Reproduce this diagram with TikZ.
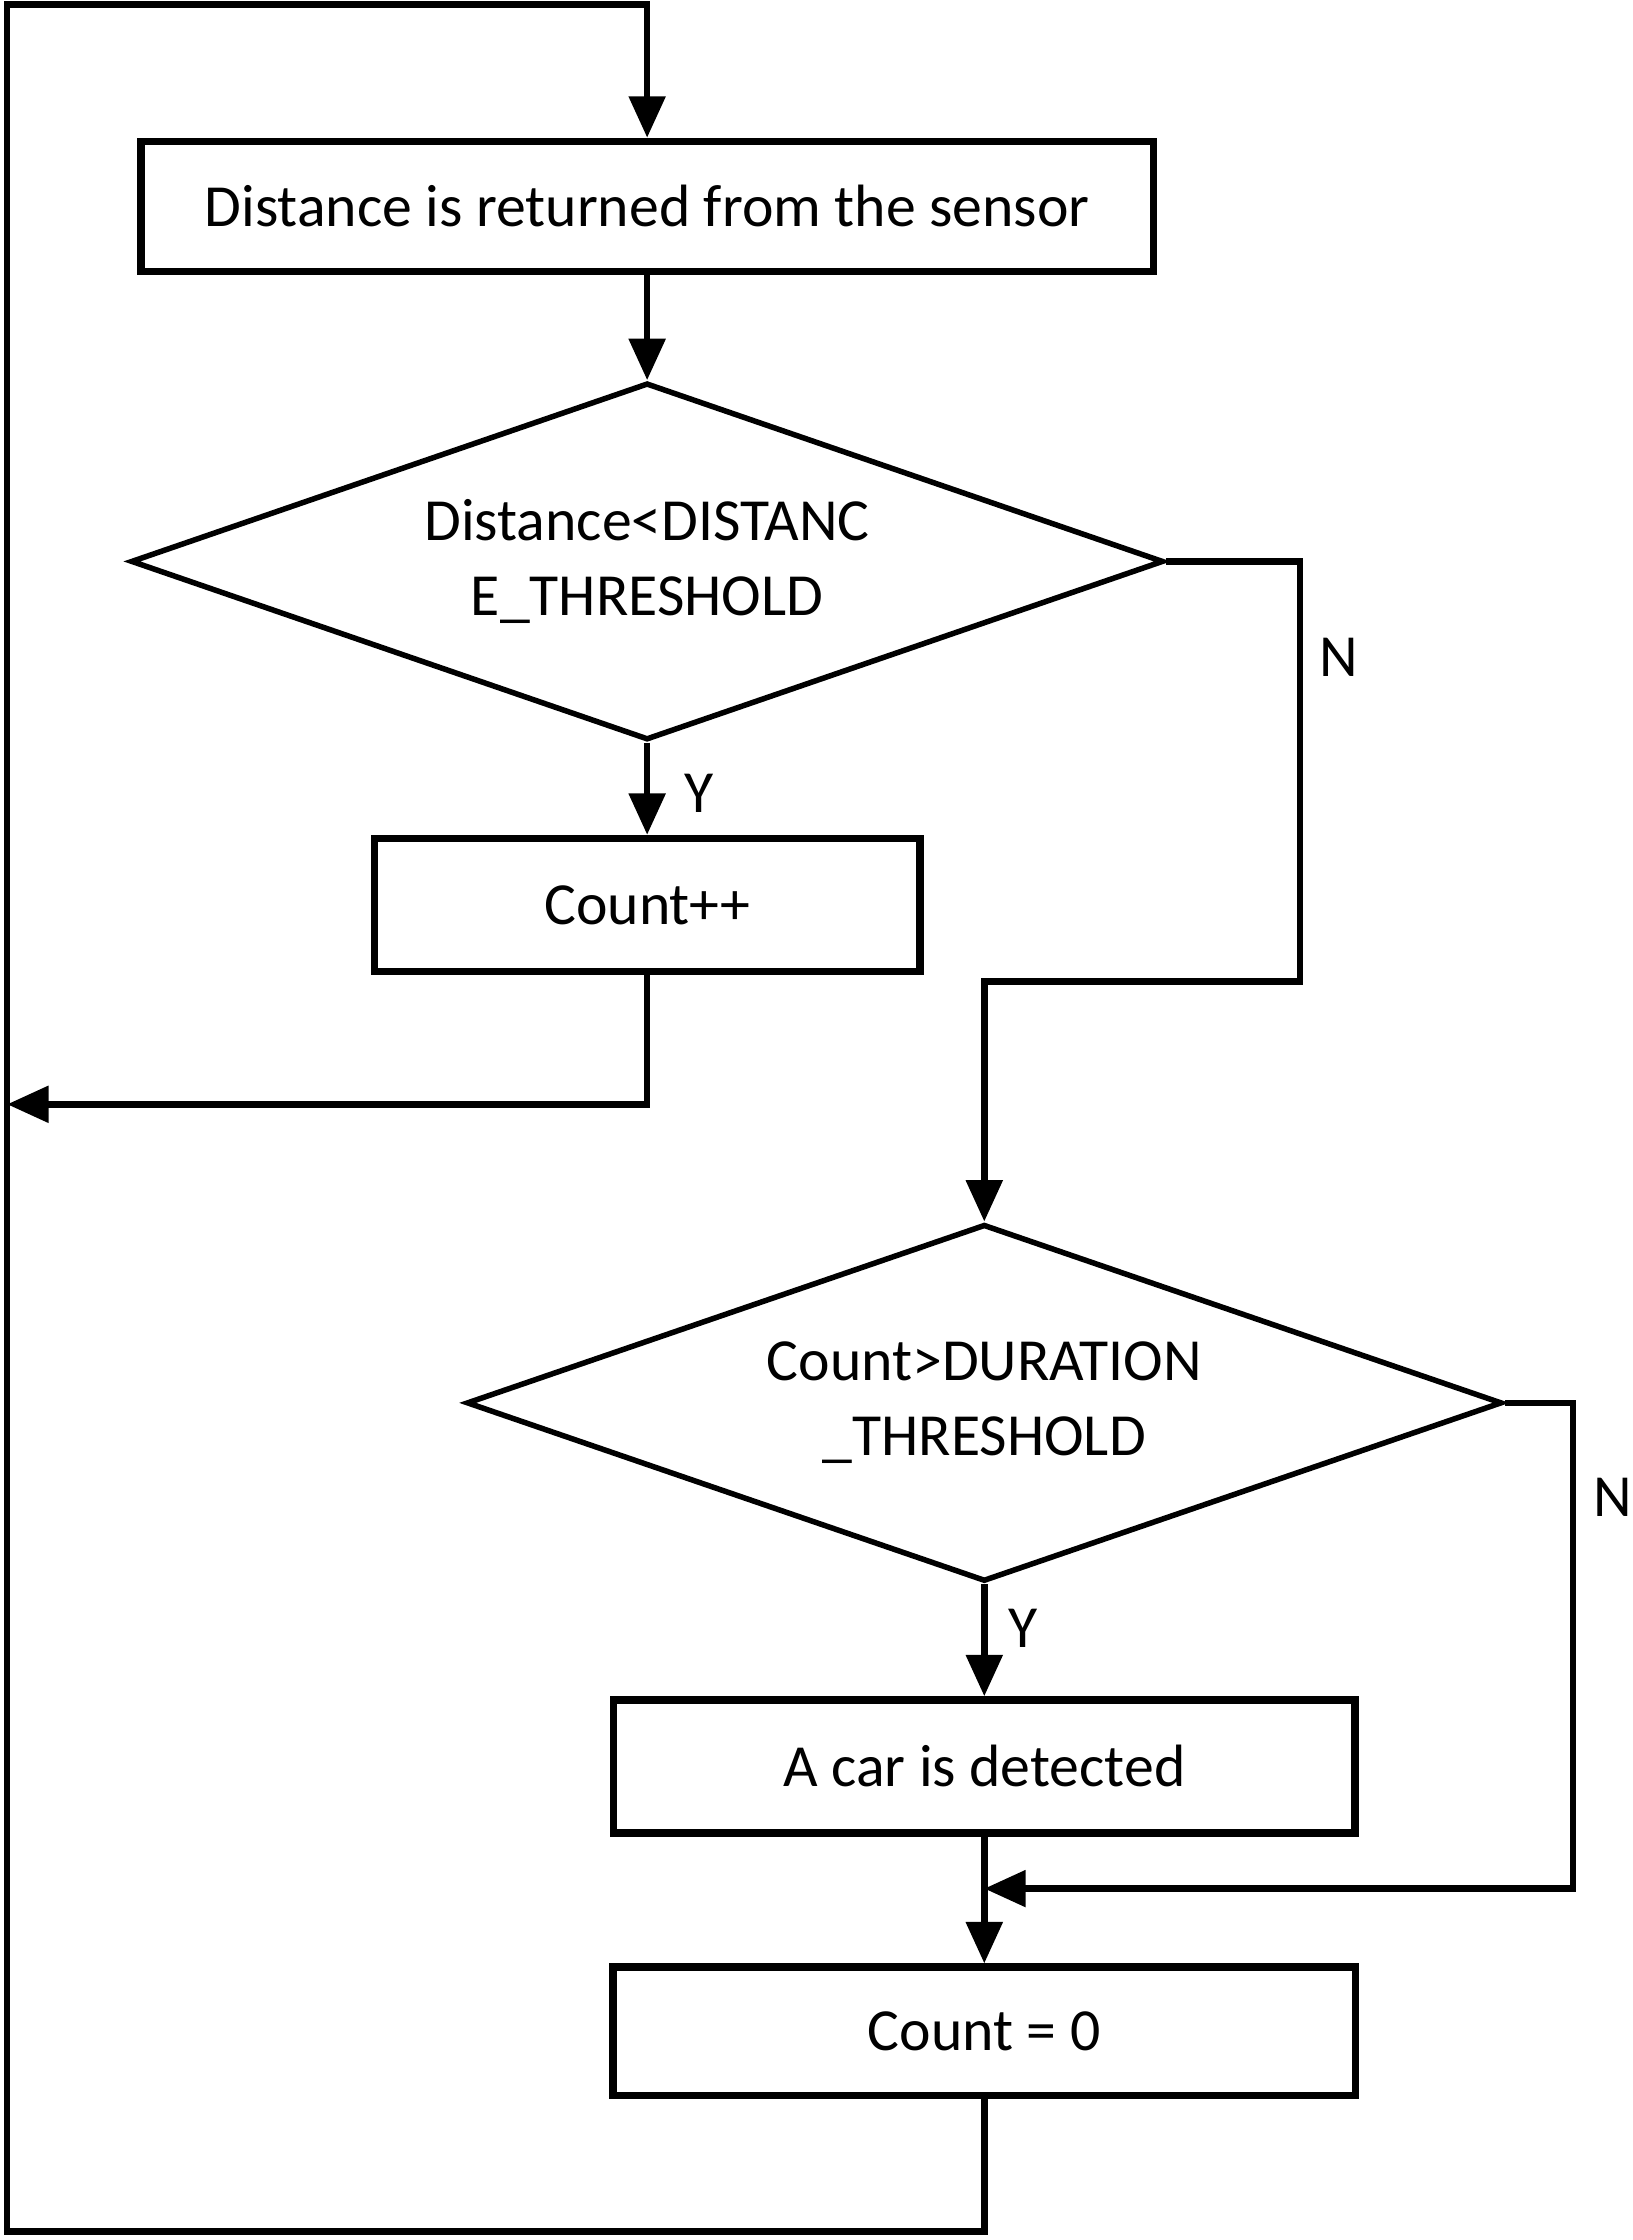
\documentclass[tikz,border=0pt]{standalone}
\usepackage{fontspec}
\setmainfont{Carlito}
\usetikzlibrary{shapes.geometric,arrows.meta}
\begin{document}
\begin{tikzpicture}[x=0.02cm,y=-0.02cm,
  txt/.style={font=\fontsize{23.8}{30}\selectfont},
  box/.style={txt,draw,line width=3pt,rectangle,inner sep=0pt},
  dia/.style={txt,draw,line width=2.2pt,diamond,aspect=2.89,inner sep=0pt,align=center},
  conn/.style={line width=2.6pt},
  arr/.style={conn,-{Triangle[length=0.58cm,width=0.5cm]}},
  lbl/.style={txt}]
\useasboundingbox (0,0) rectangle (1143,1568);
\node[box,minimum width=14.18cm,minimum height=1.82cm] (b1) at (453,144.5) {Distance is returned from the sensor};
\node[dia,minimum width=14.46cm,minimum height=5cm] (d1) at (453,393) {Distance<DISTANC\\E\_THRESHOLD};
\node[box,minimum width=7.64cm,minimum height=1.86cm] (b2) at (453,633.5) {Count++};
\node[dia,minimum width=14.5cm,minimum height=5cm] (d2) at (689,982) {Count>DURATION\\\_THRESHOLD};
\node[box,minimum width=10.38cm,minimum height=1.86cm] (b3) at (689,1236.5) {A car is detected};
\node[box,minimum width=10.4cm,minimum height=1.8cm] (b4) at (689,1422) {Count = 0};
\coordinate (tl) at (5,3);
\coordinate (bl) at (5,1562);
\coordinate (ml) at (5,773);
\coordinate (n1) at (910,687);
\coordinate (m2) at (1101,1322);
\draw[arr] (b4.south) |- (bl) -- (tl) -| (b1.north);
\draw[arr] (b1.south) -- (d1.north);
\draw[arr] (d1.south) -- (b2.north);
\draw[arr] (b2.south) |- (ml);
\draw[arr] (d1.east) -| (n1) -| (d2.north);
\draw[arr] (d2.south) -- (b3.north);
\draw[arr] (b3.south) -- (b4.north);
\draw[arr] (d2.east) -| (m2) -- (b3.south |- m2);
\node[lbl] (y1) at (489,555) {Y};
\node[lbl] (n1l) at (937,460) {N};
\node[lbl] (y2) at (716,1140) {Y};
\node[lbl] (n2l) at (1129,1048) {N};
\end{tikzpicture}
\end{document}
